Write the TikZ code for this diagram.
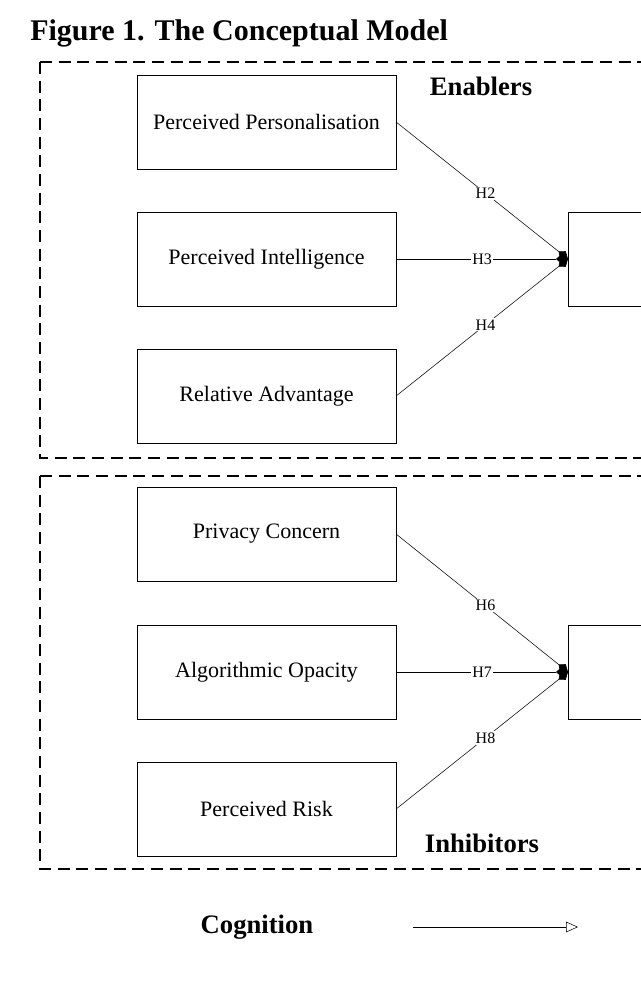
\documentclass[tikz,border=0pt]{standalone}
\usepackage{fontspec}
\setmainfont{Liberation Serif}
\usetikzlibrary{arrows.meta, positioning}
\tikzstyle{block} = [rectangle, draw, text centered, minimum height=70.5pt, minimum width=194pt, font=\fontsize{16.5}{18}\selectfont]
\tikzstyle{target} = [rectangle, draw, minimum height=70.5pt, minimum width=120pt, anchor=west]
\tikzstyle{arrow} = [thin, -{Kite[length=9pt,width=7pt,inset=4pt]}]
\tikzstyle{hyp} = [fill=white, inner sep=1pt, font=\fontsize{12}{13}\selectfont]
\tikzstyle{group} = [thick, dash pattern=on 9pt off 5pt]
\tikzstyle{heading} = [font=\bfseries\fontsize{20}{22}\selectfont]

\begin{document}
\begin{tikzpicture}[x=0.75pt, y=-0.75pt]
    \useasboundingbox (0,0) rectangle (641,995);

    % Title
    \node (title) [anchor=west, inner sep=0pt, font=\bfseries\fontsize{22.5}{24}\selectfont] at (30,33) {Figure 1. The Conceptual Model};

    % Groups
    \draw [group] (40,62) -- (700,62) (40,62) -- (40,458) -- (700,458);
    \draw [group] (40,476) -- (700,476) (40,476) -- (40,869) -- (700,869);
    \node (enablers) [heading] at (481,86) {Enablers};
    \node (inhibitors) [heading] at (482,843) {Inhibitors};

    % Enablers
    \node (pers) [block] at (266.5,122) {Perceived Personalisation};
    \node (intel) [block] at (266.5,259) {Perceived Intelligence};
    \node (adv) [block] at (266.5,396) {Relative Advantage};
    \node (cog) [target] at (568,259) {};

    % Inhibitors
    \node (priv) [block] at (266.5,534) {Privacy Concern};
    \node (opac) [block] at (266.5,672) {Algorithmic Opacity};
    \node (risk) [block] at (266.5,809) {Perceived Risk};
    \node (inh) [target] at (568,672) {};

    % ==== Arrows
    \draw [arrow] (pers.east) -- node[hyp, pos=.52] {H2} (cog.west);
    \draw [arrow] (intel.east) -- node[hyp, pos=.5] {H3} (cog.west);
    \draw [arrow] (adv.east) -- node[hyp, pos=.52] {H4} (cog.west);

    \draw [arrow] (priv.east) -- node[hyp, pos=.52] {H6} (inh.west);
    \draw [arrow] (opac.east) -- node[hyp, pos=.5] {H7} (inh.west);
    \draw [arrow] (risk.east) -- node[hyp, pos=.52] {H8} (inh.west);

    % Legend
    \node (cognition) [heading] at (257,927) {Cognition};
    \coordinate (legstart) at (413,927);
    \coordinate (legend) at (578,927);
    \draw [thin, -{Triangle[open, length=9pt, width=8pt]}] (legstart) -- (legend);

\end{tikzpicture}
\end{document}
